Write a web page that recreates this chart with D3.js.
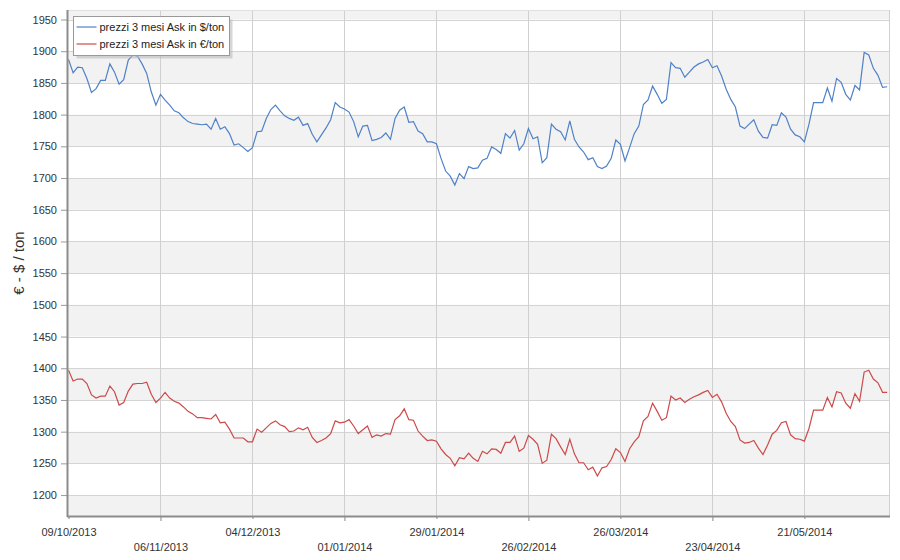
<!DOCTYPE html>
<html>
<head>
<meta charset="utf-8">
<script src="https://cdn.jsdelivr.net/npm/d3@7"></script>
<style>
  body { margin: 0; background: #fff; }
  text { font-family: "Liberation Sans", Arial, sans-serif; }
</style>
</head>
<body>
<div id="chart"></div>
<script>
// prezzi 3 mesi Ask, one value per trading day
const seriesNames = ["prezzi 3 mesi Ask in $/ton", "prezzi 3 mesi Ask in €/ton"];

const usdValues = [
  1887,1866,1875,1874,1857,1835,1841,1854,1854,1880,1867,1848,1855,1886,1894,1892,1880,1865,1836,1815,
  1832,1823,1815,1806,1803,1795,1789,1786,1785,1784,1785,1777,1794,1777,1781,1770,1752,1754,1748,1742,
  1748,1773,1774,1794,1808,1815,1806,1798,1794,1791,1796,1783,1786,1769,1757,1768,1779,1792,1819,1812,
  1809,1804,1789,1765,1782,1783,1759,1761,1764,1771,1761,1794,1807,1812,1788,1789,1774,1770,1757,1757,
  1754,1731,1711,1703,1689,1707,1699,1718,1715,1716,1728,1731,1749,1745,1739,1770,1763,1775,1744,1754,
  1778,1762,1765,1724,1732,1785,1777,1773,1760,1790,1761,1749,1741,1729,1732,1718,1715,1719,1731,1760,
  1753,1727,1748,1770,1782,1816,1823,1845,1832,1818,1824,1882,1874,1873,1859,1867,1875,1880,1883,1887,
  1874,1877,1861,1840,1824,1812,1782,1778,1785,1792,1774,1764,1763,1784,1783,1803,1796,1777,1768,1765,
  1757,1785,1819,1819,1819,1842,1821,1857,1851,1832,1823,1846,1839,1898,1894,1873,1862,1843,1844
];

const eurValues = [
  1397,1380,1383,1383,1376,1358,1353,1356,1356,1372,1363,1342,1346,1364,1375,1376,1376,1378,1359,1346,
  1353,1362,1353,1348,1345,1339,1332,1328,1322,1322,1321,1320,1327,1314,1315,1304,1290,1290,1290,1284,
  1284,1304,1299,1306,1313,1317,1311,1308,1300,1301,1306,1303,1307,1291,1283,1286,1290,1297,1317,1314,
  1315,1319,1309,1297,1303,1309,1291,1295,1293,1297,1296,1319,1325,1336,1319,1318,1301,1293,1286,1287,
  1285,1273,1264,1258,1246,1259,1257,1266,1258,1253,1269,1265,1273,1272,1266,1283,1283,1293,1269,1274,
  1294,1288,1280,1250,1255,1296,1289,1276,1264,1288,1265,1251,1251,1240,1244,1230,1243,1245,1256,1273,
  1267,1253,1273,1284,1292,1317,1324,1345,1332,1318,1322,1356,1350,1353,1346,1351,1355,1358,1362,1365,
  1354,1359,1347,1329,1316,1308,1287,1282,1283,1286,1274,1264,1279,1296,1302,1314,1316,1295,1289,1288,
  1285,1305,1334,1334,1334,1354,1339,1363,1361,1345,1337,1360,1348,1394,1397,1383,1377,1362,1362
];

// x axis: a label every 20 trading days
const tickIndex = [0, 20, 40, 60, 80, 100, 120, 140, 160];
const tickLabels = ["09/10/2013","06/11/2013","04/12/2013","01/01/2014","29/01/2014",
                    "26/02/2014","26/03/2014","23/04/2014","21/05/2014"];
const yTicks = [1200,1250,1300,1350,1400,1450,1500,1550,1600,1650,1700,1750,1800,1850,1900,1950];

let width = 900,
    height = 560,
    plotLeft = 68,
    plotRight = 889,
    plotTop = 10,
    plotBottom = 516;

let svg = d3.select("#chart")
  .append("svg")
  .attr("width", width)
  .attr("height", height);

let xScale = d3.scaleLinear().domain([0, 178.4]).range([plotLeft + 0.5, plotRight]);
let yScale = d3.scaleLinear().domain([1167, 1965]).range([plotBottom, plotTop]);

// alternating bands, shaded ones start at 1150, 1250, 1350 ...
let bands = [];
for (let i = 0; i < yTicks.length + 1; i++) {
  let lo = yTicks[0] - 50 + i * 50;
  if (i % 2 == 0) bands.push(lo);
}
svg.append("defs").append("clipPath").attr("id", "plot")
  .append("rect").attr("x", plotLeft).attr("y", plotTop)
  .attr("width", plotRight - plotLeft).attr("height", plotBottom - plotTop);

let plot = svg.append("g").attr("clip-path", "url(#plot)");
plot.selectAll(".band")
  .data(bands)
  .enter().append("rect")
  .attr("class", "band")
  .attr("x", plotLeft)
  .attr("width", plotRight - plotLeft)
  .attr("y", d => yScale(d + 50))
  .attr("height", d => yScale(d) - yScale(d + 50))
  .attr("fill", "#f2f2f2");

// grid
plot.selectAll(".hgrid")
  .data(yTicks)
  .enter().append("line")
  .attr("x1", plotLeft).attr("x2", plotRight)
  .attr("y1", d => Math.round(yScale(d)) + 0.5)
  .attr("y2", d => Math.round(yScale(d)) + 0.5)
  .attr("stroke", "#d4d4d4");

plot.selectAll(".vgrid")
  .data(tickIndex.slice(1))
  .enter().append("line")
  .attr("x1", d => Math.round(xScale(d)) + 0.5)
  .attr("x2", d => Math.round(xScale(d)) + 0.5)
  .attr("y1", plotTop).attr("y2", plotBottom)
  .attr("stroke", "#d0d0d0");

svg.append("line")
  .attr("x1", plotRight + 0.5).attr("x2", plotRight + 0.5)
  .attr("y1", plotTop).attr("y2", plotBottom)
  .attr("stroke", "#d0d0d0");
svg.append("line")
  .attr("x1", plotLeft).attr("x2", plotRight)
  .attr("y1", plotTop + 0.5).attr("y2", plotTop + 0.5)
  .attr("stroke", "#e0e0e0");

// lines
let line = d3.line()
  .x((d, i) => xScale(i))
  .y(d => yScale(d));

plot.append("path")
  .datum(usdValues)
  .attr("fill", "none")
  .attr("stroke", "#4f81c7")
  .attr("stroke-width", 1.2)
  .attr("d", line);

plot.append("path")
  .datum(eurValues)
  .attr("fill", "none")
  .attr("stroke", "#cc4a4a")
  .attr("stroke-width", 1.2)
  .attr("d", line);

// y axis
let yAxis = svg.append("g")
  .attr("transform", "translate(" + plotLeft + ",0)")
  .call(d3.axisLeft(yScale).tickValues(yTicks).tickSize(7).tickPadding(4).tickFormat(d3.format("d")));
yAxis.select(".domain").remove();
yAxis.selectAll(".tick line").attr("stroke", "#999");
yAxis.selectAll("text").attr("fill", "#333").style("font-size", "11px");

// x axis, labels staggered on two rows
let xAxis = svg.append("g")
  .attr("transform", "translate(0," + plotBottom + ")")
  .call(d3.axisBottom(xScale).tickValues(tickIndex).tickSize(0).tickFormat((d, i) => tickLabels[i]));
xAxis.select(".domain").remove();
xAxis.selectAll(".tick line")
  .attr("stroke", "#888")
  .attr("y2", (d, i) => i % 2 == 0 ? 3 : 5);
xAxis.selectAll(".tick text")
  .attr("fill", "#333")
  .style("font-size", "11px")
  .attr("dy", 0)
  .attr("y", (d, i) => i % 2 == 0 ? 20 : 35);

// axis lines
svg.append("line")
  .attr("x1", plotLeft - 0.5).attr("x2", plotLeft - 0.5)
  .attr("y1", plotTop).attr("y2", plotBottom + 1)
  .attr("stroke", "#8c8c8c").attr("stroke-width", 2);
svg.append("line")
  .attr("x1", plotLeft - 1).attr("x2", plotRight + 1)
  .attr("y1", plotBottom + 0.5).attr("y2", plotBottom + 0.5)
  .attr("stroke", "#8c8c8c").attr("stroke-width", 2);

// y title
svg.append("text")
  .attr("transform", "translate(24," + ((plotTop + plotBottom) / 2) + ") rotate(-90)")
  .attr("text-anchor", "middle")
  .attr("fill", "#333")
  .style("font-size", "15px")
  .text("€ - $ / ton");

// legend
let legend = svg.append("g").attr("transform", "translate(73.5,16.5)");
legend.append("rect")
  .attr("x", 3).attr("y", 3)
  .attr("width", 156).attr("height", 39)
  .attr("fill", "#bbb").attr("opacity", 0.6);
legend.append("rect")
  .attr("width", 156).attr("height", 39)
  .attr("fill", "#fff").attr("stroke", "#999");
let colors = ["#4f81c7", "#cc4a4a"];
seriesNames.forEach(function(name, i) {
  legend.append("line")
    .attr("x1", 3).attr("x2", 23)
    .attr("y1", 10.5 + i * 17).attr("y2", 10.5 + i * 17)
    .attr("stroke", colors[i]).attr("stroke-width", 1.2);
  legend.append("text")
    .attr("x", 26).attr("y", 14.5 + i * 17)
    .attr("fill", "#222")
    .style("font-size", "11px")
    .text(name);
});
</script>
</body>
</html>
